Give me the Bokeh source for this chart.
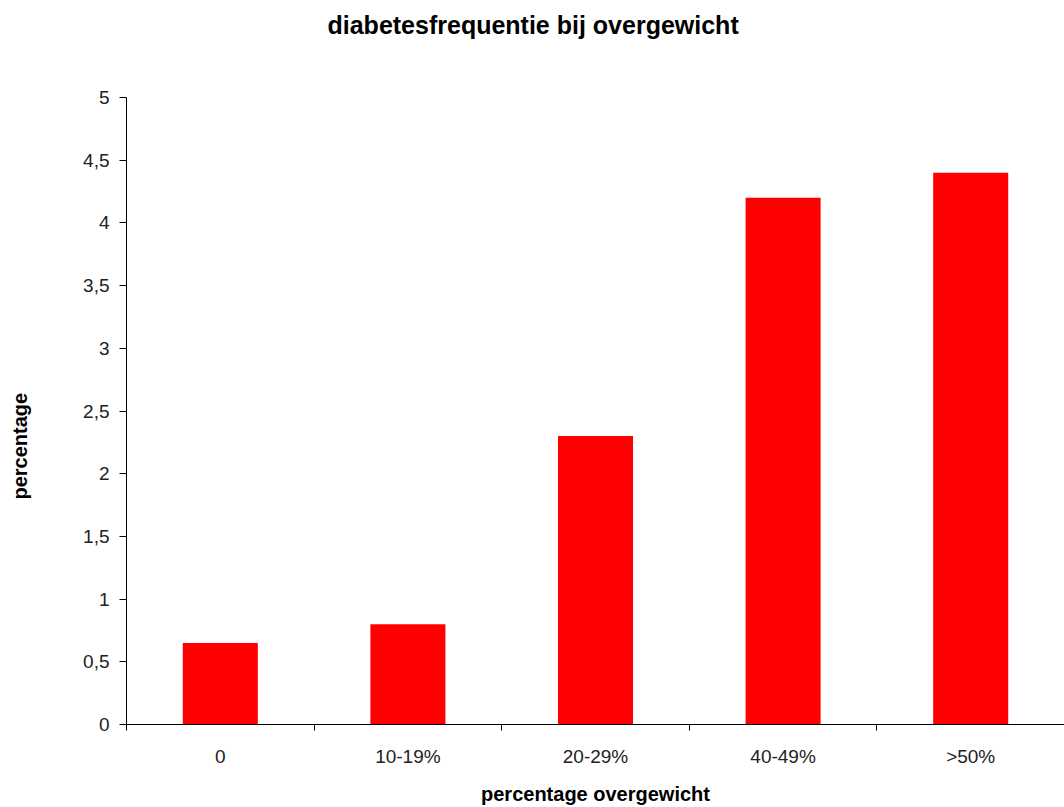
from bokeh.plotting import figure
from bokeh.models import FixedTicker, Range1d, LinearAxis, Title, ColumnDataSource
from bokeh.embed import file_html
from bokeh.resources import INLINE

categories = ["0", "10-19%", "20-29%", "40-49%", ">50%"]
values = [0.65, 0.8, 2.3, 4.2, 4.4]
y_ticks = [0, 0.5, 1, 1.5, 2, 2.5, 3, 3.5, 4, 4.5, 5]
y_tick_labels = ["0", "0,5", "1", "1,5", "2", "2,5", "3", "3,5", "4", "4,5", "5"]

FONT = "Liberation Sans"

xs = list(range(len(categories)))
src = ColumnDataSource(dict(x=xs, top=values))

p = figure(width=1064, height=807, output_backend="svg", toolbar_location=None,
           x_range=Range1d(-0.5, len(categories) - 0.5), y_range=Range1d(0, 5),
           min_border_left=126, min_border_right=0, min_border_top=97, min_border_bottom=82)

p.vbar(x="x", top="top", width=0.4, bottom=0, source=src, fill_color="#FF0000", line_color=None)

p.xgrid.visible = False
p.ygrid.visible = False
p.outline_line_color = None
p.background_fill_color = "white"
p.border_fill_color = "white"

# x axis: labels at centres, tick marks at category boundaries
xa = p.xaxis[0]
xa.ticker = FixedTicker(ticks=xs, minor_ticks=[i - 0.5 for i in range(len(categories) + 1)])
xa.major_label_overrides = {i: c for i, c in enumerate(categories)}
xa.major_tick_line_color = None
xa.major_tick_out = 0
xa.major_tick_in = 0
xa.minor_tick_out = 6
xa.minor_tick_in = 0
xa.minor_tick_line_color = "#000000"
xa.axis_line_color = "#000000"
xa.major_label_text_font = FONT
xa.major_label_text_font_size = "19px"
xa.major_label_text_color = "#222222"
xa.major_label_standoff = 15
xa.axis_label = "percentage overgewicht"
xa.axis_label_text_font = FONT
xa.axis_label_text_font_size = "20px"
xa.axis_label_text_font_style = "bold"
xa.axis_label_text_color = "#000000"
xa.axis_label_standoff = 13

ya = p.yaxis[0]
ya.ticker = FixedTicker(ticks=y_ticks)
ya.major_label_overrides = {t: l for t, l in zip(y_ticks, y_tick_labels)}
ya.minor_tick_line_color = None
ya.major_tick_out = 7
ya.major_tick_in = 0
ya.major_tick_line_color = "#000000"
ya.axis_line_color = "#000000"
ya.major_label_text_font = FONT
ya.major_label_text_font_size = "19px"
ya.major_label_text_color = "#222222"
ya.major_label_standoff = 10


def spacer(size, tick):
    # one white (invisible) tick without a label: reserves `size` pixels of border
    return LinearAxis(ticker=FixedTicker(ticks=[tick]), major_label_overrides={tick: ""},
                      major_label_text_color=None, axis_line_color=None,
                      major_tick_line_color="white", minor_tick_line_color=None,
                      major_tick_out=size, major_tick_in=0, minor_tick_out=0, minor_tick_in=0,
                      major_label_standoff=0)


# invisible spacers so that the titles sit further from the frame
p.add_layout(spacer(58, 0), "above")
p.add_layout(spacer(49, 5), "left")

p.title.text = "diabetesfrequentie bij overgewicht"
p.title.align = "left"
p.title.offset = 201
p.title.vertical_align = "bottom"
p.title.standoff = 2
p.title.text_font = FONT
p.title.text_font_size = "25px"
p.title.text_font_style = "bold"
p.title.text_color = "#000000"

ytitle = Title(text="percentage", align="left", offset=225, vertical_align="bottom", standoff=2,
               text_font=FONT, text_font_size="20px", text_font_style="bold", text_color="#000000")
p.add_layout(ytitle, "left")

open("out.html", "w").write(file_html(p, INLINE))
